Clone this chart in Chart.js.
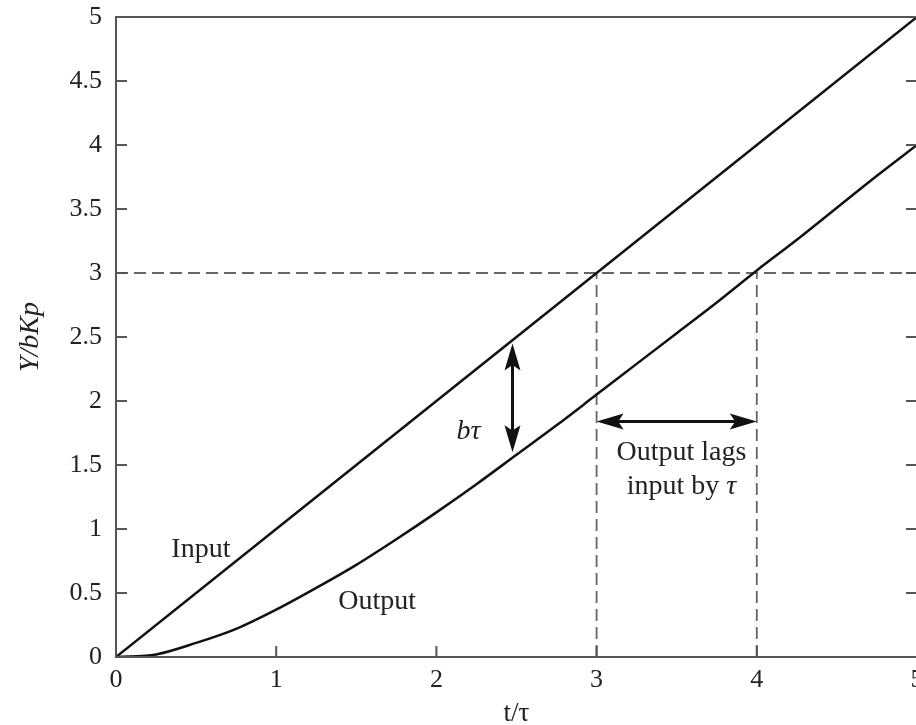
<!DOCTYPE html>
<html>
<head>
<meta charset="utf-8">
<script src="https://cdn.jsdelivr.net/npm/chart.js@4.4.0/dist/chart.umd.min.js"></script>
<style>
  body { margin: 0; background: #fff; overflow: hidden; }
  canvas { display: block; }
</style>
</head>
<body>
<canvas id="myChart" width="930" height="725"></canvas>
<script>
// Data
const tInput = [0, 1, 2, 3, 4, 5];
const yInput = [0, 1, 2, 3, 4, 5];

const tOutput = [0, 0.25, 0.5, 0.75, 1, 1.25, 1.5, 1.75, 2, 2.25, 2.5, 2.75, 3, 3.25, 3.5, 3.75, 4, 4.25, 4.5, 4.75, 5];
const yOutput = [0, 0.02, 0.11, 0.22, 0.37, 0.54, 0.72, 0.92, 1.13, 1.35, 1.58, 1.81, 2.05, 2.29, 2.53, 2.77, 3.02, 3.26, 3.51, 3.76, 4.0];

// Dashed guide lines: [x0, y0, x1, y1]
const guides = [
    [0, 3, 5, 3],
    [3, 0, 3, 3],
    [4, 0, 4, 3]
];

// Double arrows: [x0, y0, x1, y1]
const arrows = [
    [2.475, 2.45, 2.475, 1.6],
    [3.0, 1.84, 4.0, 1.84]
];

// Text labels in data units
const labels = [
    { parts: [['Input', false]], x: 0.53, y: 0.84 },
    { parts: [['Output', false]], x: 1.63, y: 0.43 },
    { parts: [['b\u03C4', true]], x: 2.2, y: 1.76 },
    { parts: [['Output lags', false]], x: 3.53, y: 1.6 },
    { parts: [['input by ', false], ['\u03C4', true]], x: 3.53, y: 1.33 }
];

const xTickValues = [0, 1, 2, 3, 4, 5];
const yTickValues = [0, 0.5, 1, 1.5, 2, 2.5, 3, 3.5, 4, 4.5, 5];

const serif = "'Liberation Serif', 'DejaVu Serif', serif";
const ink = '#222';

function pts(xs, ys) {
    return xs.map((x, i) => ({ x: x, y: ys[i] }));
}

const datasets = [
    {
        data: pts(tInput, yInput),
        borderColor: '#111', borderWidth: 2.5, pointRadius: 0, tension: 0
    },
    {
        data: pts(tOutput, yOutput),
        borderColor: '#111', borderWidth: 2.5, pointRadius: 0, cubicInterpolationMode: 'monotone'
    }
];
guides.forEach(g => {
    datasets.push({
        data: [{ x: g[0], y: g[1] }, { x: g[2], y: g[3] }],
        borderColor: '#666', borderWidth: 1.8, borderDash: [12, 6], pointRadius: 0
    });
});

// Frame, inward ticks, arrows and text
const decor = {
    id: 'decor',
    afterDraw(chart) {
        const ctx = chart.ctx;
        const a = chart.chartArea;
        const xs = chart.scales.x, ys = chart.scales.y;
        ctx.save();
        ctx.strokeStyle = '#555';
        ctx.lineWidth = 2;
        ctx.strokeRect(a.left, a.top, a.right - a.left, a.bottom - a.top);
        ctx.beginPath();
        yTickValues.forEach(v => {
            const py = ys.getPixelForValue(v);
            ctx.moveTo(a.left, py); ctx.lineTo(a.left + 11, py);
            ctx.moveTo(a.right, py); ctx.lineTo(a.right - 11, py);
        });
        xTickValues.forEach(v => {
            const px = xs.getPixelForValue(v);
            ctx.moveTo(px, a.bottom); ctx.lineTo(px, a.bottom - 11);
        });
        ctx.stroke();

        // arrows
        ctx.strokeStyle = '#111';
        ctx.fillStyle = '#111';
        ctx.lineWidth = 3;
        arrows.forEach(ar => {
            const x0 = xs.getPixelForValue(ar[0]), y0 = ys.getPixelForValue(ar[1]);
            const x1 = xs.getPixelForValue(ar[2]), y1 = ys.getPixelForValue(ar[3]);
            const ang = Math.atan2(y1 - y0, x1 - x0);
            const len = 27, half = 8;
            ctx.beginPath();
            ctx.moveTo(x0 + Math.cos(ang) * 10, y0 + Math.sin(ang) * 10);
            ctx.lineTo(x1 - Math.cos(ang) * 10, y1 - Math.sin(ang) * 10);
            ctx.stroke();
            [[x0, y0, ang + Math.PI], [x1, y1, ang]].forEach(h => {
                const c = Math.cos(h[2]), s = Math.sin(h[2]);
                ctx.beginPath();
                ctx.moveTo(h[0], h[1]);
                ctx.lineTo(h[0] - c * len - s * half, h[1] - s * len + c * half);
                ctx.lineTo(h[0] - c * len * 0.8, h[1] - s * len * 0.8);
                ctx.lineTo(h[0] - c * len + s * half, h[1] - s * len - c * half);
                ctx.closePath();
                ctx.fill();
            });
        });

        // text
        ctx.fillStyle = ink;
        ctx.textBaseline = 'middle';
        ctx.textAlign = 'left';
        labels.forEach(lb => {
            let total = 0;
            lb.parts.forEach(p => {
                ctx.font = (p[1] ? 'italic ' : '') + '28px ' + serif;
                total += ctx.measureText(p[0]).width;
            });
            let px = xs.getPixelForValue(lb.x) - total / 2;
            const py = ys.getPixelForValue(lb.y);
            lb.parts.forEach(p => {
                ctx.font = (p[1] ? 'italic ' : '') + '28px ' + serif;
                ctx.fillText(p[0], px, py);
                px += ctx.measureText(p[0]).width;
            });
        });
        ctx.restore();
    }
};

new Chart(document.getElementById('myChart'), {
    type: 'line',
    data: { datasets: datasets },
    options: {
        responsive: false,
        animation: false,
        layout: { padding: { top: 17, right: 13, left: 0, bottom: 0 } },
        plugins: { legend: { display: false }, tooltip: { enabled: false } },
        scales: {
            x: {
                type: 'linear', min: 0, max: 5,
                afterFit: s => { s.height = 68; s.paddingRight = 0; s.paddingLeft = 0; },
                afterBuildTicks: s => { s.ticks = xTickValues.map(v => ({ value: v })); },
                grid: { display: false, drawTicks: false },
                border: { display: false },
                ticks: { color: ink, padding: 8, font: { family: serif, size: 26 }, callback: v => String(v) },
                title: {
                    display: true, text: 't/\u03C4', color: ink,
                    font: { family: serif, size: 27 }, padding: { top: 0, bottom: -5 }
                }
            },
            y: {
                type: 'linear', min: 0, max: 5,
                afterFit: s => { s.width = 116; s.paddingTop = 0; s.paddingBottom = 0; },
                afterBuildTicks: s => { s.ticks = yTickValues.map(v => ({ value: v })); },
                grid: { display: false, drawTicks: false },
                border: { display: false },
                ticks: { color: ink, padding: 14, font: { family: serif, size: 26 }, callback: v => String(v) },
                title: {
                    display: true, text: 'Y/bKp', color: ink,
                    font: { family: serif, size: 28, style: 'italic' }, padding: { top: 14, bottom: 0 }
                }
            }
        }
    },
    plugins: [decor]
});
</script>
</body>
</html>
